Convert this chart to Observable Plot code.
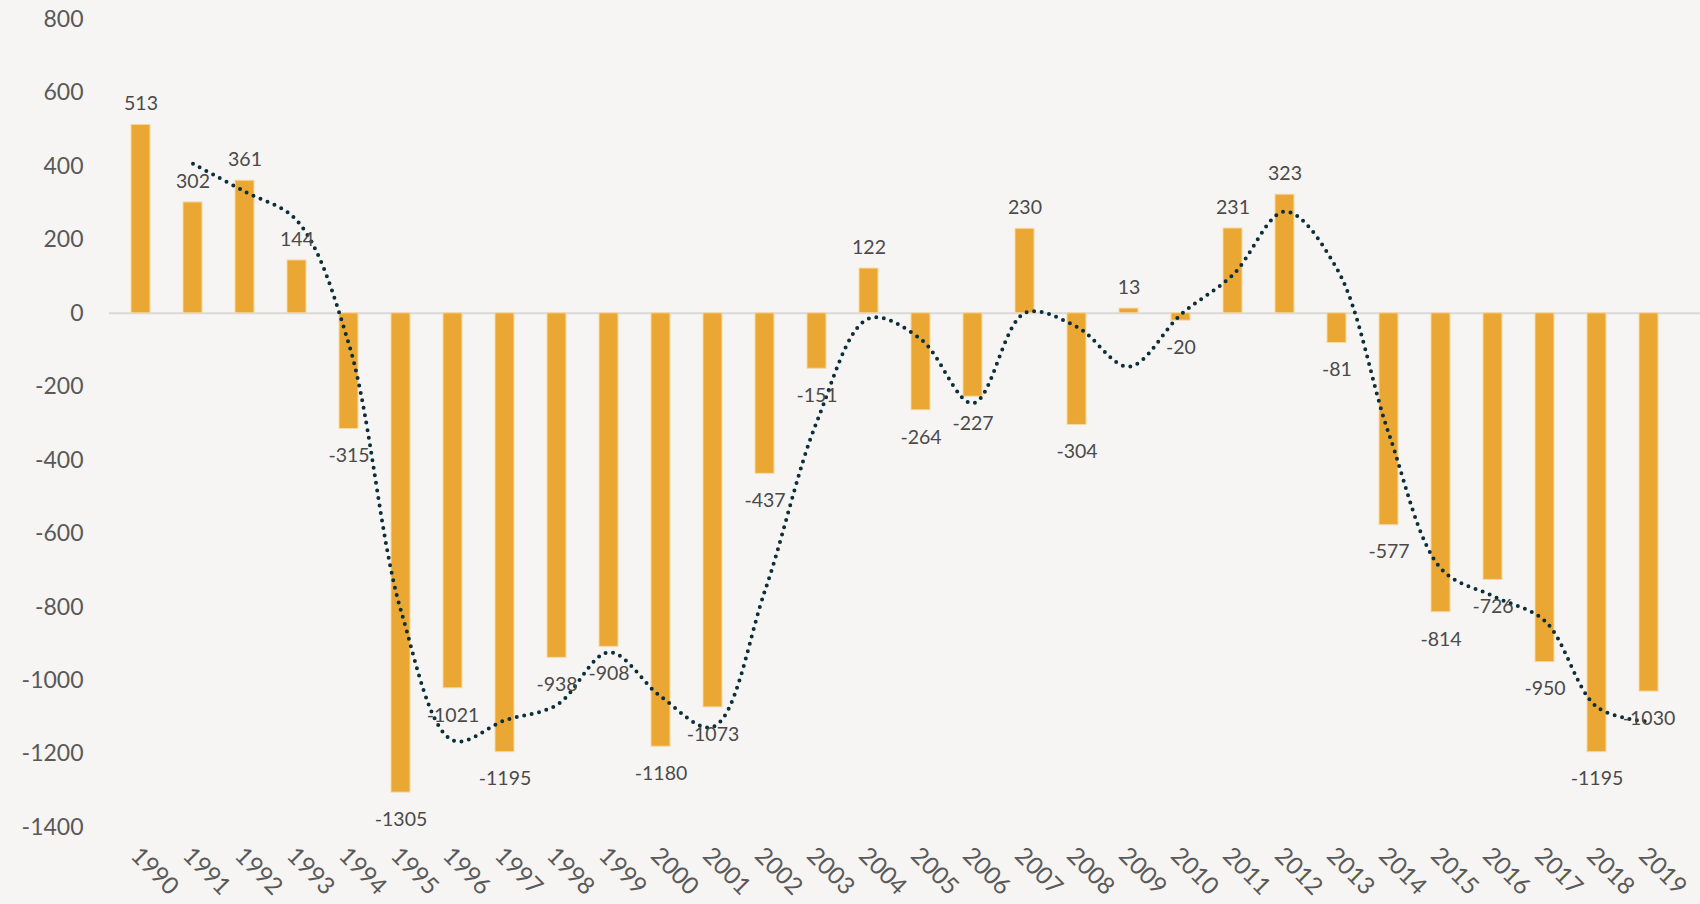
<!DOCTYPE html>
<html>
<head>
<meta charset="utf-8">
<script src="https://cdn.jsdelivr.net/npm/d3@7"></script>
<script src="https://cdn.jsdelivr.net/npm/@observablehq/plot@0.6"></script>
<style>
  html, body { margin: 0; padding: 0; background: #f7f5f3; }
  #chart { width: 1700px; height: 904px; }
</style>
</head>
<body>
<div id="chart"></div>
<script>
const years = ["1990","1991","1992","1993","1994","1995","1996","1997","1998","1999",
  "2000","2001","2002","2003","2004","2005","2006","2007","2008","2009",
  "2010","2011","2012","2013","2014","2015","2016","2017","2018","2019"];
const values = [513, 302, 361, 144, -315, -1305, -1021, -1195, -938, -908,
  -1180, -1073, -437, -151, 122, -264, -227, 230, -304, 13,
  -20, 231, 323, -81, -577, -814, -726, -950, -1195, -1030];
// dotted trend line (starts at 1991)
const trendYears = years.slice(1);
const trendValues = [407, 331, 252, -85, -810, -1163, -1108, -1066, -923, -1044,
  -1126, -755, -294, -14, -71, -245, 1, -37, -145, -3,
  105, 277, 121, -329, -695, -770, -838, -1072, -1112];
const yTicks = [-1400, -1200, -1000, -800, -600, -400, -200, 0, 200, 400, 600, 800];

const bars = years.map((y, i) => ({year: y, value: values[i]}));
const trend = trendYears.map((y, i) => ({year: y, value: trendValues[i]}));

const font = "Lato, 'Open Sans', sans-serif";

const chart = Plot.plot({
  width: 1700,
  height: 904,
  marginLeft: 109,
  marginRight: 0,
  marginTop: 19,
  marginBottom: 77,
  style: {background: "#f7f5f3", fontFamily: font, color: "#595959"},
  x: {domain: years, range: [109, 1679], paddingInner: 0.64, paddingOuter: 0.32, label: null},
  y: {domain: [-1400, 800], label: null},
  marks: [
    Plot.ruleY([0], {stroke: "#d9d9d9", strokeWidth: 2}),
    Plot.barY(bars, {x: "year", y: "value", fill: "#eba733", stroke: "#f5d9a8", strokeWidth: 1}),
    Plot.line(trend, {x: "year", y: "value", curve: "catmull-rom", stroke: "#0b2f3a",
      strokeWidth: 4, strokeDasharray: "0,7.6", strokeLinecap: "round"}),
    Plot.text(bars.filter(d => d.value >= 0), {x: "year", y: "value", text: d => String(d.value),
      dy: -21, fontSize: 19.5, fill: "#4a4a4a"}),
    Plot.text(bars.filter(d => d.value < 0), {x: "year", y: "value", text: d => String(d.value),
      dy: 27, fontSize: 19.5, fill: "#4a4a4a"}),
    Plot.axisY({ticks: yTicks, tickSize: 0, tickPadding: 26, fontSize: 23, tickFormat: d => String(d), fill: "#595959"}),
    Plot.axisX({tickSize: 0, tickRotate: 45, tickPadding: 24, dx: -6, fontSize: 24, fill: "#595959"})
  ]
});
document.getElementById("chart").appendChild(chart);
</script>
</body>
</html>
